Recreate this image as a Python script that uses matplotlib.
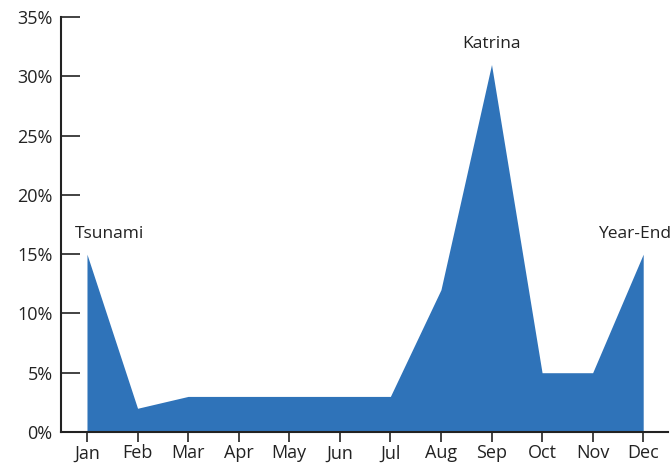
import numpy as np
import matplotlib.pyplot as plt

months = ["Jan", "Feb", "Mar", "Apr", "May", "Jun", "Jul", "Aug", "Sep", "Oct", "Nov", "Dec"]
values = [15, 2, 3, 3, 3, 3, 3, 12, 31, 5, 5, 15]
notes = {0: "Tsunami", 8: "Katrina", 11: "Year-End"}
note_offsets = {0: 0.45, 8: 0.0, 11: -0.18}

plt.rcParams['font.family'] = ['Open Sans', 'DejaVu Sans']

fig = plt.figure(figsize=(6.71, 4.63), dpi=100)
ax = fig.add_axes([0.0909, 0.067, 0.9046, 0.896])

x = np.arange(len(months))
ax.fill_between(x, values, 0, color="#2f73b9", linewidth=0)

for i, label in notes.items():
    ax.text(i + note_offsets[i], values[i] + 1.05, label, ha="center", va="bottom",
            fontsize=12.5, color="#222222")

ax.set_xlim(-0.514, 11.49)
ax.set_ylim(0, 35)
ax.set_xticks(x)
ax.set_xticklabels(months)
ax.set_yticks(np.arange(0, 36, 5))
ax.set_yticklabels([f"{v}%" for v in range(0, 36, 5)])

for s in ["top", "right"]:
    ax.spines[s].set_visible(False)
for s in ["left", "bottom"]:
    ax.spines[s].set_linewidth(1.5)
    ax.spines[s].set_color("#222222")

ax.tick_params(axis="y", direction="in", length=14, width=1.2, labelsize=13, colors="#222222", pad=6)
ax.tick_params(axis="x", direction="out", length=7, width=1.2, labelsize=13, colors="#222222", pad=2)

fig.savefig("out.png", dpi=100)
